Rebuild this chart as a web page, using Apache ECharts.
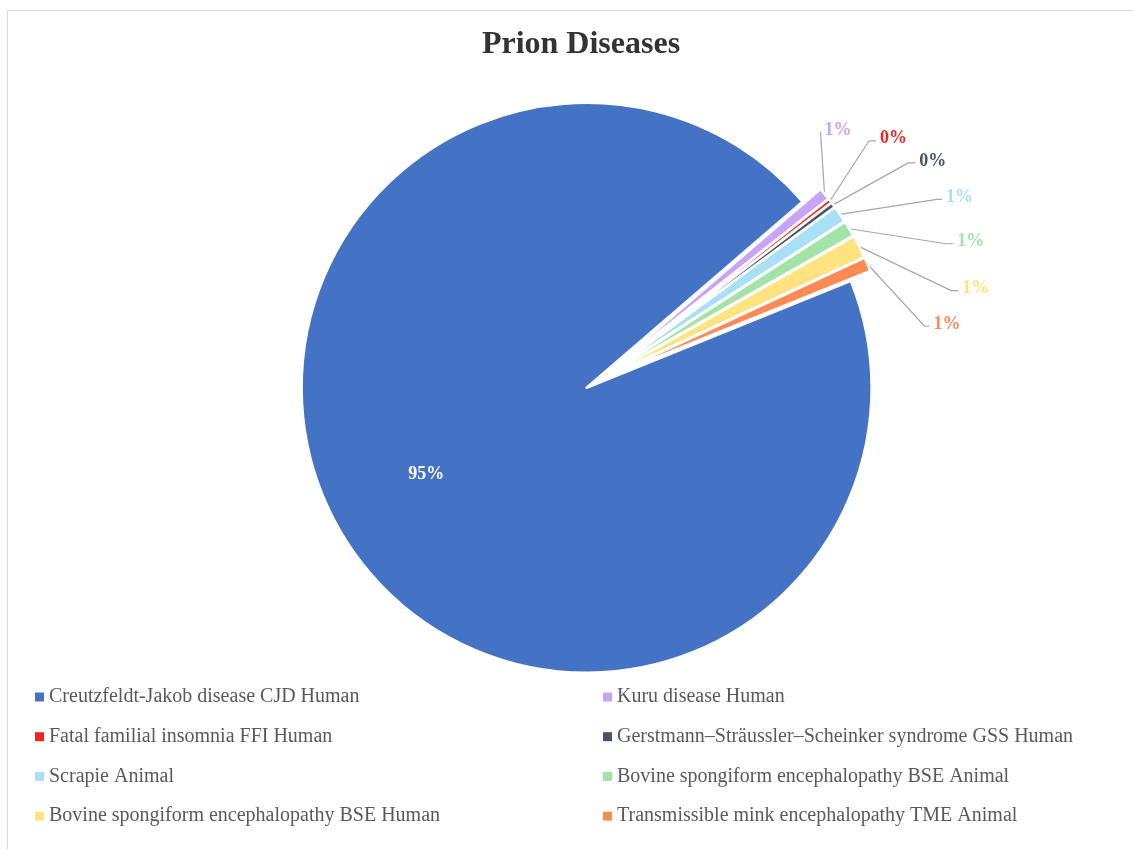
<!DOCTYPE html>
<html>
<head>
<meta charset="utf-8">
<script src="https://cdn.jsdelivr.net/npm/echarts@6/dist/echarts.min.js"></script>
<style>
html,body{margin:0;padding:0;background:#fff;overflow:hidden;}
#frame{position:absolute;left:7px;top:10px;width:1140px;height:850px;border:1.5px solid #d9d9d9;box-sizing:border-box;}
#chart{position:absolute;left:0;top:0;width:1133px;height:849px;}
</style>
</head>
<body>
<div id="frame"></div>
<div id="chart"></div>
<script>
const categories = [
  'Creutzfeldt-Jakob disease CJD Human',
  'Kuru disease Human',
  'Fatal familial insomnia FFI Human',
  'Gerstmann–Sträussler–Scheinker syndrome GSS Human',
  'Scrapie Animal',
  'Bovine spongiform encephalopathy BSE Animal',
  'Bovine spongiform encephalopathy BSE Human',
  'Transmissible mink encephalopathy TME Animal'
];
const values = [94.8, 0.7, 0.25, 0.3, 0.95, 0.9, 1.3, 0.8];
const colors = ['#4472C4', '#C9A3F7', '#F0251E', '#44546A', '#A8E0F5', '#A3E4A6', '#FFE37F', '#FF8A56'];

// label placement (layout only): elbow offset from the slice edge point, and horizontal tail length
const labelElbow = [null, [-4, -62, 0], [39, -60, 7], [75, -42, 7], [97, -15, 5], [97, 15, 7], [92, 44, 7], [57, 62, 5]];

const serif = '"Liberation Serif", "Times New Roman", serif';
const chart = echarts.init(document.getElementById('chart'));

const data = categories.map((name, i) => ({
  name: name,
  value: values[i],
  selected: true,
  itemStyle: { color: colors[i] },
  label: i === 0
    ? { position: 'inside', color: '#ffffff' }
    : { position: 'outside', color: colors[i] }
}));

const legendCommon = {
  orient: 'vertical', top: 687, padding: 0,
  itemWidth: 9, itemHeight: 9, itemGap: 19.7, icon: 'rect',
  itemStyle: { borderWidth: 0 },
  textStyle: { fontFamily: serif, fontSize: 20, lineHeight: 20, color: '#595959' }
};

chart.setOption({
  animation: false,
  color: colors,
  title: {
    text: 'Prion Diseases',
    left: 576,
    top: 24,
    textAlign: 'center',
    textStyle: { fontFamily: serif, fontSize: 32, fontWeight: 'bold', color: '#333333' }
  },
  legend: [
    Object.assign({}, legendCommon, {
      left: 35,
      data: [categories[0], categories[2], categories[4], categories[6]]
    }),
    Object.assign({}, legendCommon, {
      left: 603,
      data: [categories[1], categories[3], categories[5], categories[7]]
    })
  ],
  series: [{
    type: 'pie',
    center: [596, 382],
    radius: 285,
    startAngle: 22,
    clockwise: true,
    selectedMode: 'multiple',
    selectedOffset: 11,
    avoidLabelOverlap: false,
    itemStyle: { borderColor: '#ffffff', borderWidth: 2.5 },
    label: {
      fontFamily: serif, fontSize: 18, fontWeight: 'bold',
      formatter: p => Math.round(p.value) + '%'
    },
    labelLine: { length: 20, length2: 10, lineStyle: { color: '#a6a6a6', width: 1.2 } },
    labelLayout: function (p) {
      if (p.dataIndex === 0) return { dx: -36, dy: 11 };
      const e = labelElbow[p.dataIndex];
      const p0 = p.labelLinePoints[0];
      const ex = p0[0] + e[0], ey = p0[1] + e[1];
      const tx = ex + e[2];
      const r = p.labelRect;
      return {
        dx: (tx + 4) - r.x,
        dy: (ey - 2) - (r.y + r.height / 2),
        labelLinePoints: [[p0[0], p0[1]], [ex, ey], [tx, ey]]
      };
    },
    emphasis: { disabled: true },
    data: data
  }]
});
</script>
</body>
</html>
